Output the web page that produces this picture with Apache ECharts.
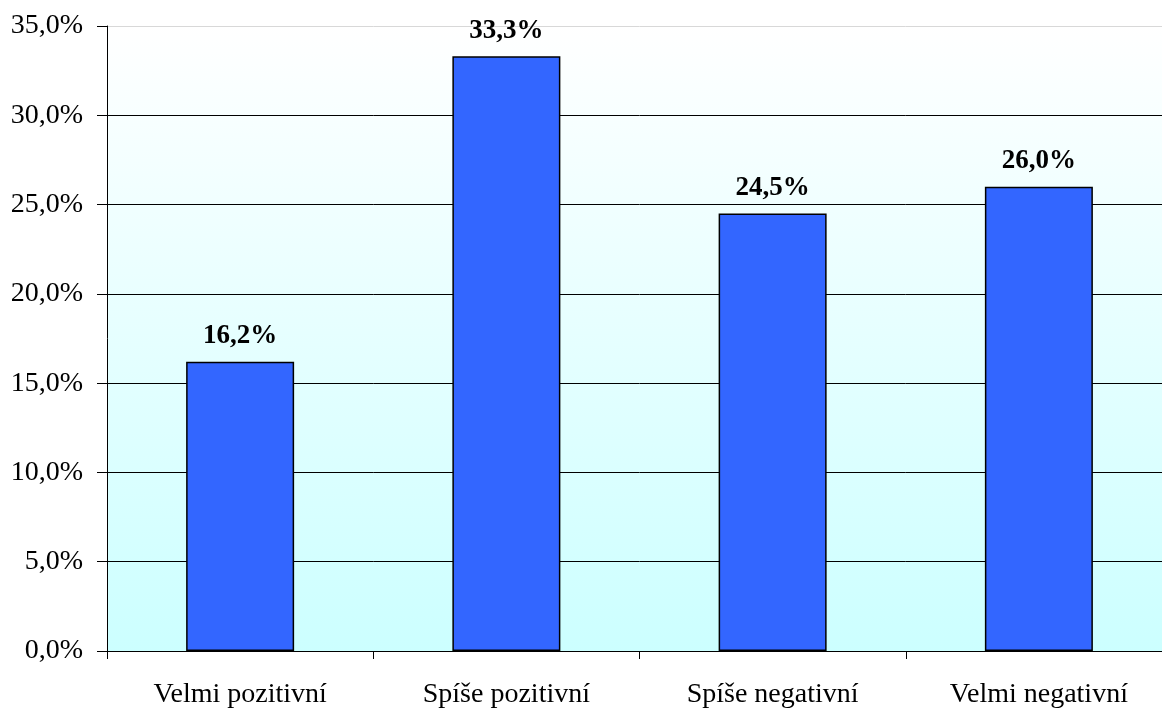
<!DOCTYPE html>
<html>
<head>
<meta charset="utf-8">
<script src="https://cdn.jsdelivr.net/npm/echarts@6/dist/echarts.min.js"></script>
<style>
  html, body { margin: 0; padding: 0; background: #ffffff; overflow: hidden; }
  /* the plot runs on past the right edge of the window */
  #chart { width: 1172px; height: 709px; }
</style>
</head>
<body>
<div id="chart"></div>
<script>
// Hodnocení: podíl odpovědí v procentech
const categories = ['Velmi pozitivní', 'Spíše pozitivní', 'Spíše negativní', 'Velmi negativní'];
const values = [16.2, 33.3, 24.5, 26.0];
const yTicks = [0, 5, 10, 15, 20, 25, 30, 35];

const fmt = v => v.toFixed(1).replace('.', ',') + '%';
const font = '"Liberation Serif", "Times New Roman", serif';

const chart = echarts.init(document.getElementById('chart'));
chart.setOption({
  animation: false,
  grid: {
    left: 107, right: 0, top: 26, bottom: 58,
    show: true,
    borderWidth: 0,
    backgroundColor: new echarts.graphic.LinearGradient(0, 0, 0, 1, [
      { offset: 0, color: '#ffffff' },
      { offset: 1, color: '#ccffff' }
    ])
  },
  xAxis: {
    type: 'category',
    data: categories,
    axisLine: { lineStyle: { color: '#000', width: 1 } },
    axisTick: { show: true, length: 8, alignWithLabel: false, lineStyle: { color: '#000' } },
    axisLabel: { color: '#000', fontFamily: font, fontSize: 28, margin: 30 },
    splitLine: { show: false }
  },
  yAxis: {
    type: 'value',
    min: yTicks[0],
    max: yTicks[yTicks.length - 1],
    interval: 5,
    axisLine: { show: true, lineStyle: { color: '#000', width: 1 } },
    axisTick: { show: true, length: 10, lineStyle: { color: '#000' } },
    axisLabel: { color: '#000', fontFamily: font, fontSize: 28, margin: 24, formatter: v => fmt(v) },
    splitLine: {
      show: true,
      lineStyle: {
        color: yTicks.map(t => t === 35 ? '#d8d8d8' : '#000'),
        width: 1
      }
    }
  },
  series: [{
    type: 'bar',
    data: values,
    barWidth: 108,
    itemStyle: { color: '#3366ff', borderColor: '#000', borderWidth: 1.5 },
    label: {
      show: true,
      position: 'top',
      distance: 12,
      color: '#000',
      fontFamily: font,
      fontSize: 27,
      fontWeight: 'bold',
      formatter: p => fmt(p.value)
    }
  }]
});
</script>
</body>
</html>
